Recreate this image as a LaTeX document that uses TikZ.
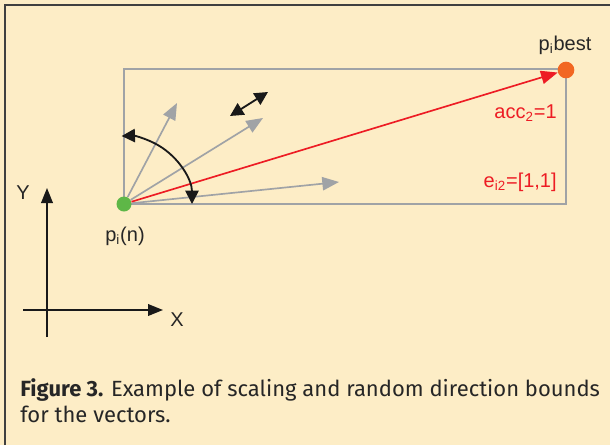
\documentclass[tikz,border=0pt]{standalone}
\usepackage{fontspec}
\setmainfont{Liberation Sans}
\newfontfamily\capfont{Fira Sans}
\usetikzlibrary{arrows.meta}
\definecolor{paper}{RGB}{253,237,198}
\definecolor{vgray}{RGB}{160,163,166}
\definecolor{vred}{RGB}{237,28,36}
\definecolor{vgreen}{RGB}{94,183,71}
\definecolor{vorange}{RGB}{242,103,34}
\tikzset{
  lbl/.style={font=\fontsize{12}{14}\selectfont,inner sep=0pt,text=black!85},
  redlbl/.style={lbl,text=vred,anchor=east},
  dot/.style={circle,inner sep=0pt,minimum size=9pt},
  vec/.style={draw=vgray,line width=1pt,-{Triangle[length=10pt,width=8pt]}},
  bnd/.style={draw=black!90,line width=1.1pt,{Triangle[length=8pt,width=8pt]}-{Triangle[length=8pt,width=8pt]}},
  axis/.style={draw=black!90,line width=1pt,-{Triangle[length=9pt,width=7pt]}},
  capt/.style={font=\capfont\fontsize{13.2}{15.6}\selectfont,inner sep=0pt,align=left,text=black!85}
}
\begin{document}
\begin{tikzpicture}[x=0.6pt,y=-0.6pt]
\useasboundingbox (0,0) rectangle (610,445);
\fill[paper] (0,0) rectangle (610,445);
\draw[black!75,line width=1.2pt] (5,445) -- (5,5) -- (610,5);
% search box
\draw[vgray,line width=1.1pt] (124,69) rectangle (566,204);
\node[dot,fill=vgreen] (pi) at (124,204) {};
\node[dot,fill=vorange,minimum size=10pt] (pbest) at (566,70) {};
% random vectors
\coordinate (v1) at (177,103);
\coordinate (v2) at (263,118);
\coordinate (v3) at (339,182);
\draw[vec] (pi) -- (v1);
\draw[vec] (pi) -- (v2);
\draw[vec] (pi) -- (v3);
\draw[vred,line width=1pt,-{Triangle[length=10pt,width=8pt]}] (pi) -- (pbest);
% bounds
\draw[bnd] ([xshift=40.8pt]pi.center) arc[start angle=0,end angle=92,radius=40.8pt];
\coordinate (s1) at (230,116);
\coordinate (s2) at (268,92);
\draw[bnd] (s1) -- (s2);
% axes
\coordinate (ybot) at (47,337);
\coordinate (ytop) at (47,188);
\coordinate (xl) at (23,310);
\coordinate (xr) at (163,310);
\draw[axis] (ybot) -- (ytop);
\draw[axis] (xl) -- (xr);
\node[lbl] (ylab) at (23,193) {Y};
\node[lbl] (xlab) at (177,320) {X};
% labels
\node[lbl] (pilab) at (125,236) {p\textsubscript{i}(n)};
\node[lbl] (bestlab) at (565,45) {p\textsubscript{i}best};
\node[redlbl] (acclab) at (557,113) {acc\textsubscript{2}=1};
\node[redlbl] (elab) at (557,182) {e\textsubscript{i2}=[1,1]};
\node[capt,anchor=north west] (cap) at (20,378) {\textbf{Figure 3.} Example of scaling and random direction bounds\\for the vectors.};
\end{tikzpicture}
\end{document}
